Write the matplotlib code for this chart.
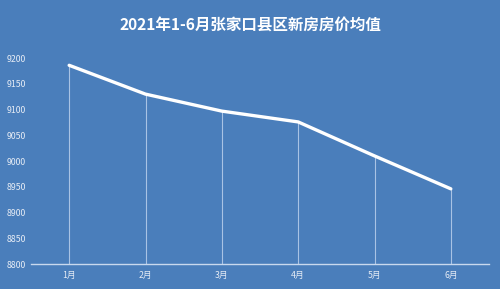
import matplotlib

matplotlib.use("Agg")
import matplotlib.pyplot as plt

plt.rcParams["font.family"] = ["Noto Sans CJK SC", "DejaVu Sans"]

BG = "#4a7ebb"
months = ["1月", "2月", "3月", "4月", "5月", "6月"]
prices = [9186, 9130, 9097, 9076, 9010, 8946]
yticks = [8800, 8850, 8900, 8950, 9000, 9050, 9100, 9150, 9200]

fig = plt.figure(figsize=(5, 2.89), dpi=100, facecolor=BG)
ax = fig.add_axes([0.062, 0.0865, 0.916, 0.7125], facecolor=BG)

x = list(range(len(months)))
ax.vlines(x, 8800, prices, color="#a9c3e4", linewidth=0.8)
ax.plot(x, prices, color="white", linewidth=2.4, solid_capstyle="round")

ax.set_xlim(-0.5, 5.5)
ax.set_ylim(8800, 9200)
ax.set_xticks(x)
ax.set_xticklabels(months)
ax.set_yticks(yticks)
ax.tick_params(length=0, labelsize=6.3, colors="#e6ecf5")
ax.tick_params(axis="x", pad=5)
ax.tick_params(axis="y", pad=3.5)

for side in ("top", "right", "left"):
    ax.spines[side].set_visible(False)
ax.spines["bottom"].set_color("#c9d9ee")
ax.spines["bottom"].set_linewidth(1)

fig.text(0.5, 0.915, "2021年1-6月张家口县区新房房价均值", ha="center", va="center",
         color="white", fontsize=11.2, fontweight="bold")

fig.savefig("out.png", dpi=100, facecolor=BG)
